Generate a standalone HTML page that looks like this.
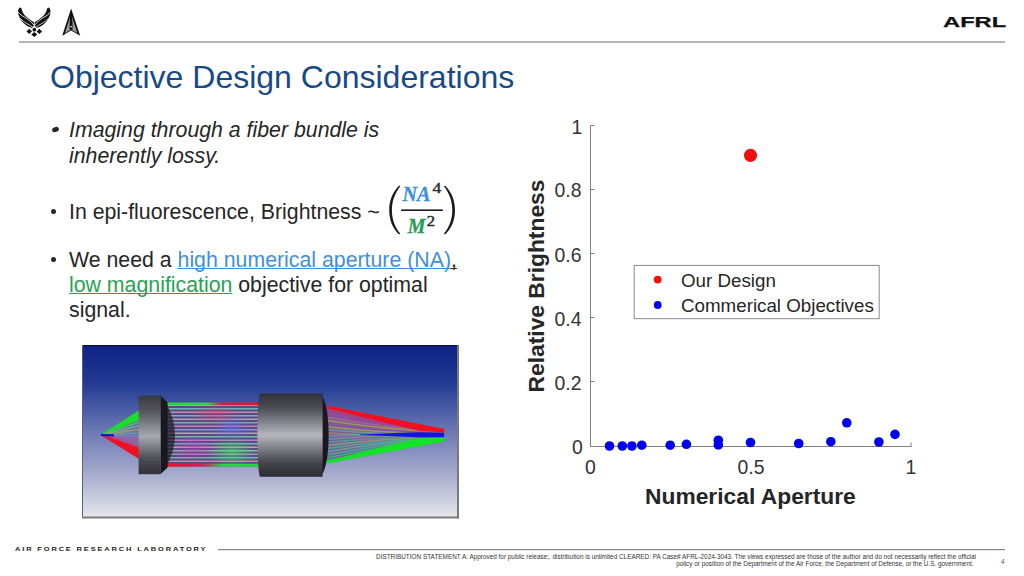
<!DOCTYPE html>
<html><head><meta charset="utf-8">
<style>
html,body{margin:0;padding:0;background:#fff;}
body{width:1024px;height:576px;position:relative;overflow:hidden;font-family:"Liberation Sans",sans-serif;color:#262626;}
.t{position:absolute;white-space:nowrap;line-height:1;}
.b{font-size:21.3px;}
.u1{color:#3f8fdb;text-decoration:underline;text-decoration-thickness:1.3px;text-underline-offset:1px;text-decoration-skip-ink:none;}
.u2{color:#27a352;text-decoration:underline;text-decoration-thickness:1.3px;text-underline-offset:1px;text-decoration-skip-ink:none;}
.dot{position:absolute;width:5px;height:5px;border-radius:50%;background:#262626;}
</style></head><body>


<!-- logos -->
<svg style="position:absolute;left:0;top:0" width="100" height="48" viewBox="0 0 100 48">
  <g>
      <path d="M19.5 7.6 L21.3 7.9 C21.9 10.6 22.9 13 24.5 14.9 C26.6 17.1 30.1 19.6 33.9 22.3 L33.9 25.3 L32.2 28.0 C29.2 27.6 26 25.8 23.5 23.1 C20.6 19.9 18.6 16.1 18.1 12.9 C17.8 10.9 18.5 9 19.5 7.6 Z" fill="#111"/>
      <path d="M17.9 11.8 C19.8 14.3 22 15.8 24.6 17.2 C28 19.1 31 21.6 34 25.2" stroke="#fff" stroke-width="0.85" fill="none"/>
      <path d="M20.4 18.4 C22.4 20.8 24.6 22.3 27 23.6 C29.2 24.8 31.2 26 33.2 27.8" stroke="#fff" stroke-width="0.75" fill="none"/>
    </g>
    <g transform="translate(68.6 0) scale(-1 1)">
      <path d="M19.5 7.6 L21.3 7.9 C21.9 10.6 22.9 13 24.5 14.9 C26.6 17.1 30.1 19.6 33.9 22.3 L33.9 25.3 L32.2 28.0 C29.2 27.6 26 25.8 23.5 23.1 C20.6 19.9 18.6 16.1 18.1 12.9 C17.8 10.9 18.5 9 19.5 7.6 Z" fill="#111"/>
      <path d="M17.9 11.8 C19.8 14.3 22 15.8 24.6 17.2 C28 19.1 31 21.6 34 25.2" stroke="#fff" stroke-width="0.85" fill="none"/>
      <path d="M20.4 18.4 C22.4 20.8 24.6 22.3 27 23.6 C29.2 24.8 31.2 26 33.2 27.8" stroke="#fff" stroke-width="0.75" fill="none"/>
    </g>
  <g fill="#111">
    <circle cx="34.3" cy="29.7" r="1.85"/>
    <path d="M26.5 31.4 L29.3 28.8 L32.0 31.4 L29.3 33.9 Z"/>
    <path d="M42.1 31.4 L39.3 28.8 L36.6 31.4 L39.3 33.9 Z"/>
    <path d="M31.3 34.5 L34.3 32.0 L37.3 34.5 L34.3 37.0 Z"/>
  </g>
  <path d="M71.1 8.5 L62.2 35.8 L71.1 30.6 L80.2 35.8 Z" fill="#111"/>
  <path d="M70.4 16 L64.9 33.2 L70.4 29.8 Z M71.8 16 L77.4 33.2 L71.8 29.8 Z" fill="#9a9a9a"/>
  <path d="M71.1 10 L69.7 22 L69.6 29.2 L72.6 29.2 L72.5 22 Z" fill="#111"/>
  <circle cx="71.1" cy="26.6" r="0.9" fill="#ddd"/>
</svg>

<!-- header -->
<svg style="position:absolute;left:0;top:0" width="1024" height="576" viewBox="0 0 1024 576">
  <rect x="19" y="41" width="986" height="2" fill="#b4b4b4"/>
  <rect x="218" y="549" width="787" height="1.2" fill="#858585"/>
</svg>

<div class="t" style="left:942.8px;top:14.1px;font-size:15.5px;font-weight:bold;color:#111;-webkit-text-stroke:0.25px #111;transform-origin:0 0;transform:scaleX(1.53);">AFRL</div>

<div class="t" style="left:50px;top:61px;font-size:32px;color:#174a86;">Objective Design Considerations</div>

<!-- bullets -->
<div class="dot" style="left:51.5px;top:126.5px;width:7px;height:5px;transform:rotate(-20deg);"></div>
<div class="t b" style="left:69px;top:120.2px;font-style:italic;">Imaging through a fiber bundle is</div>
<div class="t b" style="left:69px;top:145.6px;font-style:italic;">inherently lossy.</div>

<div class="dot" style="left:50.7px;top:208.5px;"></div>
<div class="t b" style="left:69px;top:201.7px;">In epi-fluorescence, Brightness ~</div>

<div class="dot" style="left:50.7px;top:256.8px;"></div>
<div class="t b" style="left:69px;top:249.5px;">We need a <span class="u1">high numerical aperture (NA)</span><span style="text-decoration:underline;text-decoration-thickness:1.3px;text-underline-offset:1px;text-decoration-skip-ink:none;">,</span></div>
<div class="t b" style="left:69px;top:275.3px;"><span class="u2">low magnification</span> objective for optimal</div>
<div class="t b" style="left:69px;top:300.4px;">signal.</div>



<!-- optics image -->
<svg style="position:absolute;left:82px;top:345px" width="378" height="174" viewBox="82 345 378 174">
<defs>
<linearGradient id="bg" x1="0" y1="0" x2="0" y2="1">
 <stop offset="0" stop-color="#0e2285"/>
 <stop offset="0.22" stop-color="#223a92"/>
 <stop offset="0.5" stop-color="#6a78b4"/>
 <stop offset="0.78" stop-color="#aeb2d0"/>
 <stop offset="1" stop-color="#e6e6ec"/>
</linearGradient>
<linearGradient id="metal" x1="0" y1="0" x2="0" y2="1">
 <stop offset="0" stop-color="#303038"/>
 <stop offset="0.18" stop-color="#4e4e56"/>
 <stop offset="0.5" stop-color="#b6b6be"/>
 <stop offset="0.82" stop-color="#484850"/>
 <stop offset="1" stop-color="#2a2a30"/>
</linearGradient>
<linearGradient id="metal1" x1="0" y1="0" x2="0" y2="1">
 <stop offset="0" stop-color="#3a3a42"/>
 <stop offset="0.2" stop-color="#55555d"/>
 <stop offset="0.52" stop-color="#a8a8b0"/>
 <stop offset="0.8" stop-color="#4e4e56"/>
 <stop offset="1" stop-color="#303036"/>
</linearGradient>
<linearGradient id="beamTop" x1="0" y1="0" x2="1" y2="0">
 <stop offset="0" stop-color="#18e030"/><stop offset="0.45" stop-color="#30d050"/><stop offset="0.6" stop-color="#d02050"/><stop offset="1" stop-color="#f01020"/>
</linearGradient>
<linearGradient id="beamBot" x1="0" y1="0" x2="1" y2="0">
 <stop offset="0" stop-color="#f01020"/><stop offset="0.4" stop-color="#d02060"/><stop offset="0.6" stop-color="#30d050"/><stop offset="1" stop-color="#18e030"/>
</linearGradient>
<radialGradient id="gG"><stop offset="0" stop-color="#30f060" stop-opacity="0.55"/><stop offset="1" stop-color="#30f060" stop-opacity="0"/></radialGradient>
<radialGradient id="gB"><stop offset="0" stop-color="#6070ff" stop-opacity="0.5"/><stop offset="1" stop-color="#6070ff" stop-opacity="0"/></radialGradient>
<radialGradient id="gM"><stop offset="0" stop-color="#d030d0" stop-opacity="0.45"/><stop offset="1" stop-color="#d030d0" stop-opacity="0"/></radialGradient>
<radialGradient id="gR"><stop offset="0" stop-color="#f03070" stop-opacity="0.45"/><stop offset="1" stop-color="#f03070" stop-opacity="0"/></radialGradient>
</defs>
<rect x="82" y="345" width="376" height="172" fill="url(#bg)"/>
<rect x="82" y="345" width="376" height="1.2" fill="#08103c"/>
<rect x="82" y="345" width="1" height="172" fill="#5a5f8a"/>
<rect x="457" y="345" width="2" height="173.5" fill="#7a7a7a"/>
<rect x="82" y="516.5" width="377" height="2" fill="#7a7a7a"/>
<path d="M101.6 435.0 L139 410.5 L139 458.8 Z" fill="#7a6aa0" opacity="0.75"/>
<line x1="101.6" y1="435.0" x2="139" y2="411.50" stroke="#20e030" stroke-width="1.3"/>
<line x1="101.6" y1="435.0" x2="139" y2="415.06" stroke="#20e030" stroke-width="1.3"/>
<line x1="101.6" y1="435.0" x2="139" y2="418.62" stroke="#30d848" stroke-width="1.3"/>
<line x1="101.6" y1="435.0" x2="139" y2="422.18" stroke="#50c070" stroke-width="1.3"/>
<line x1="101.6" y1="435.0" x2="139" y2="425.75" stroke="#60b090" stroke-width="1.3"/>
<line x1="101.6" y1="435.0" x2="139" y2="429.31" stroke="#a0a060" stroke-width="1.3"/>
<line x1="101.6" y1="435.0" x2="139" y2="432.87" stroke="#60a0b0" stroke-width="1.3"/>
<line x1="101.6" y1="435.0" x2="139" y2="436.43" stroke="#8080c0" stroke-width="1.3"/>
<line x1="101.6" y1="435.0" x2="139" y2="439.99" stroke="#a060a0" stroke-width="1.3"/>
<line x1="101.6" y1="435.0" x2="139" y2="443.55" stroke="#b05090" stroke-width="1.3"/>
<line x1="101.6" y1="435.0" x2="139" y2="447.12" stroke="#d03060" stroke-width="1.3"/>
<line x1="101.6" y1="435.0" x2="139" y2="450.68" stroke="#e01838" stroke-width="1.3"/>
<line x1="101.6" y1="435.0" x2="139" y2="454.24" stroke="#f01020" stroke-width="1.3"/>
<line x1="101.6" y1="435.0" x2="139" y2="457.80" stroke="#f01020" stroke-width="1.3"/>
<path d="M101.6 435.0 L139 410.3 L139 420 Z" fill="#18e028"/>
<path d="M101.6 435.0 L139 448 L139 459 Z" fill="#f01020"/>
<path d="M101 434 L114 434.3 L114 436.4 L101 436 Z" fill="#1010d0"/>
<rect x="166" y="402.5" width="93" height="64" fill="#5a4a86"/>
<line x1="166" y1="405.2" x2="259" y2="405.2" stroke="#b8a0b8" stroke-width="1.4"/>
<line x1="166" y1="408.7" x2="259" y2="408.7" stroke="#68b8b8" stroke-width="1.4"/>
<line x1="166" y1="412.2" x2="259" y2="412.2" stroke="#c890a8" stroke-width="1.4"/>
<line x1="166" y1="415.7" x2="259" y2="415.7" stroke="#78b0c8" stroke-width="1.4"/>
<line x1="166" y1="419.2" x2="259" y2="419.2" stroke="#b0a0b8" stroke-width="1.4"/>
<line x1="166" y1="422.7" x2="259" y2="422.7" stroke="#68b8a8" stroke-width="1.4"/>
<line x1="166" y1="426.2" x2="259" y2="426.2" stroke="#c880a8" stroke-width="1.4"/>
<line x1="166" y1="429.7" x2="259" y2="429.7" stroke="#8898d0" stroke-width="1.4"/>
<line x1="166" y1="433.2" x2="259" y2="433.2" stroke="#b8a8a8" stroke-width="1.4"/>
<line x1="166" y1="436.7" x2="259" y2="436.7" stroke="#68c0a8" stroke-width="1.4"/>
<line x1="166" y1="440.2" x2="259" y2="440.2" stroke="#b880b8" stroke-width="1.4"/>
<line x1="166" y1="443.7" x2="259" y2="443.7" stroke="#78b8b8" stroke-width="1.4"/>
<line x1="166" y1="447.2" x2="259" y2="447.2" stroke="#c8a0a8" stroke-width="1.4"/>
<line x1="166" y1="450.7" x2="259" y2="450.7" stroke="#88c098" stroke-width="1.4"/>
<line x1="166" y1="454.2" x2="259" y2="454.2" stroke="#b090b0" stroke-width="1.4"/>
<line x1="166" y1="457.7" x2="259" y2="457.7" stroke="#70b8b0" stroke-width="1.4"/>
<line x1="166" y1="461.2" x2="259" y2="461.2" stroke="#c090a0" stroke-width="1.4"/>
<line x1="166" y1="464.7" x2="259" y2="464.7" stroke="#90a0c0" stroke-width="1.4"/>
<ellipse cx="232" cy="452" rx="24" ry="15" fill="url(#gG)"/>
<ellipse cx="232" cy="428" rx="20" ry="12" fill="url(#gB)"/>
<ellipse cx="195" cy="448" rx="24" ry="14" fill="url(#gM)"/>
<ellipse cx="215" cy="414" rx="26" ry="10" fill="url(#gR)"/>
<path d="M166 402.4 H259 V405.2 H166 Z" fill="url(#beamTop)"/>
<path d="M166 463.8 H259 V466.6 H166 Z" fill="url(#beamBot)"/>
<path d="M166 403 Q184 435 166 467 Z" fill="#1a1a22" opacity="0.7"/>
<path d="M327 405.6 L444.3 429 L444.3 441.5 L327 463.3 Z" fill="#7a5c98" opacity="0.95"/>
<path d="M327 408.00 Q385 422.25 444.3 430.50" stroke="#e02850" stroke-width="1.5" fill="none" opacity="0.9"/>
<path d="M327 411.12 Q385 424.09 444.3 431.06" stroke="#c03080" stroke-width="1.5" fill="none" opacity="0.9"/>
<path d="M327 414.24 Q385 425.93 444.3 431.62" stroke="#a040a0" stroke-width="1.5" fill="none" opacity="0.9"/>
<path d="M327 417.35 Q385 427.76 444.3 432.18" stroke="#b06090" stroke-width="1.5" fill="none" opacity="0.9"/>
<path d="M327 420.47 Q385 429.60 444.3 432.74" stroke="#a0a050" stroke-width="1.5" fill="none" opacity="0.9"/>
<path d="M327 423.59 Q385 431.44 444.3 433.29" stroke="#9050a0" stroke-width="1.5" fill="none" opacity="0.9"/>
<path d="M327 426.71 Q385 433.28 444.3 433.85" stroke="#a0a060" stroke-width="1.5" fill="none" opacity="0.9"/>
<path d="M327 429.82 Q385 435.12 444.3 434.41" stroke="#70a090" stroke-width="1.5" fill="none" opacity="0.9"/>
<path d="M327 432.94 Q385 436.96 444.3 434.97" stroke="#b08060" stroke-width="1.5" fill="none" opacity="0.9"/>
<path d="M327 436.06 Q385 432.79 444.3 435.53" stroke="#60a0b0" stroke-width="1.5" fill="none" opacity="0.9"/>
<path d="M327 439.18 Q385 434.63 444.3 436.09" stroke="#8090a0" stroke-width="1.5" fill="none" opacity="0.9"/>
<path d="M327 442.29 Q385 436.47 444.3 436.65" stroke="#50a0a0" stroke-width="1.5" fill="none" opacity="0.9"/>
<path d="M327 445.41 Q385 438.31 444.3 437.21" stroke="#90a070" stroke-width="1.5" fill="none" opacity="0.9"/>
<path d="M327 448.53 Q385 440.15 444.3 437.76" stroke="#40b0a0" stroke-width="1.5" fill="none" opacity="0.9"/>
<path d="M327 451.65 Q385 441.99 444.3 438.32" stroke="#60b090" stroke-width="1.5" fill="none" opacity="0.9"/>
<path d="M327 454.76 Q385 443.82 444.3 438.88" stroke="#40b0a0" stroke-width="1.5" fill="none" opacity="0.9"/>
<path d="M327 457.88 Q385 445.66 444.3 439.44" stroke="#30c070" stroke-width="1.5" fill="none" opacity="0.9"/>
<path d="M327 461.00 Q385 447.50 444.3 440.00" stroke="#20d050" stroke-width="1.5" fill="none" opacity="0.9"/>
<path d="M327 405.6 L444.3 429 L444 432.4 L420 431 L380 421.5 L340 411.5 L327 408.5 Z" fill="#f01020"/>
<path d="M327 463.4 L444.3 441.4 L444 437.8 L420 438 L380 447.5 L340 458 L327 460.5 Z" fill="#12e428"/>
<path d="M360 434.6 L400 432.8 L420 432.2 L444.3 432.8 L444 437.2 L420 437.6 L400 436.6 L360 435 Z" fill="#1414e0"/>
<path d="M160.4 395.6 L167.6 402.5 L167.6 467.5 L160.4 474.2 Z" fill="#18181e"/>
<rect x="138.6" y="395.6" width="22" height="78.6" fill="url(#metal1)"/>
<path d="M321 393.4 Q328.6 405 328.6 435 Q328.6 465 321 476.7 Z" fill="#18181e"/>
<path d="M260 393.4 H322.6 V476.7 H260 Q257.4 470 257.4 435 Q257.4 400 260 393.4 Z" fill="url(#metal)"/>
</svg>
<!-- chart -->
<svg style="position:absolute;left:0;top:0" width="1024" height="576" viewBox="0 0 1024 576" font-family="Liberation Sans">
  <g stroke="#808080" stroke-width="1" fill="none">
    <path d="M590.5 125.5V446.5H911.5"/>
    <path d="M590.5 125.5h4M590.5 189.5h4M590.5 253.5h4M590.5 317.5h4M590.5 381.5h4"/>
    <path d="M750.5 446.5v-4M911 446.5v-4"/>
  </g>
  <g fill="#333" font-size="19.4" text-anchor="end">
    <text x="582.3" y="133.8">1</text>
    <text x="581.5" y="197.4">0.8</text>
    <text x="581.5" y="261.6">0.6</text>
    <text x="581.5" y="325.8">0.4</text>
    <text x="581.5" y="390">0.2</text>
    <text x="582.8" y="454.4">0</text>
  </g>
  <g fill="#333" font-size="19.4" text-anchor="middle">
    <text x="590.5" y="474">0</text>
    <text x="751" y="474">0.5</text>
    <text x="911" y="474">1</text>
  </g>
  <text x="750.4" y="504.3" font-size="22.8" font-weight="bold" fill="#262626" text-anchor="middle">Numerical Aperture</text>
  <text transform="translate(544 286) rotate(-90)" font-size="22.8" font-weight="bold" fill="#262626" text-anchor="middle">Relative Brightness</text>
  <circle cx="750.5" cy="155.3" r="6.6" fill="#f01010"/>
  <g fill="#0000ee">
    <circle cx="609.5" cy="446" r="4.8"/>
    <circle cx="622.3" cy="446" r="4.8"/>
    <circle cx="631.9" cy="446" r="4.8"/>
    <circle cx="641.8" cy="445.2" r="4.8"/>
    <circle cx="670.2" cy="445.2" r="4.8"/>
    <circle cx="686.4" cy="444.3" r="4.8"/>
    <circle cx="718.3" cy="440.2" r="4.8"/>
    <circle cx="718.3" cy="444.9" r="4.8"/>
    <circle cx="750.5" cy="442.5" r="4.8"/>
    <circle cx="798.7" cy="443.5" r="4.8"/>
    <circle cx="830.8" cy="441.7" r="4.8"/>
    <circle cx="846.8" cy="422.8" r="4.8"/>
    <circle cx="878.9" cy="442" r="4.8"/>
    <circle cx="895" cy="434.4" r="4.8"/>
  </g>
  <rect x="634.2" y="265.4" width="245" height="53.3" fill="#fff" stroke="#8a8a8a" stroke-width="1"/>
  <circle cx="657.7" cy="279.6" r="3.9" fill="#f01010"/>
  <circle cx="657.7" cy="305" r="3.9" fill="#0000ee"/>
  <g fill="#262626" font-size="18.75">
    <text x="681" y="287.3">Our Design</text>
    <text x="681" y="312.4">Commerical Objectives</text>
  </g>
</svg>


<!-- formula -->
<svg style="position:absolute;left:0;top:0" width="1024" height="576" viewBox="0 0 1024 576">
  <path d="M399.3 185.6 C393 191.5 389.2 200 389.2 210.2 C389.2 220.4 393 228.9 399.3 234.6 L400.2 233.6 C395.3 227.6 391.9 219.6 391.9 210.2 C391.9 200.8 395.3 192.6 400.2 186.6 Z" fill="#1a1a1a"/>
  <path d="M444.9 185.6 C451.2 191.5 455 200 455 210.2 C455 220.4 451.2 228.9 444.9 234.6 L444 233.6 C448.9 227.6 452.3 219.6 452.3 210.2 C452.3 200.8 448.9 192.6 444 186.6 Z" fill="#1a1a1a"/>
  <rect x="401.1" y="209.4" width="41.7" height="1.6" fill="#1a1a1a"/>
  <text x="402.4" y="200.8" font-family="Liberation Serif" font-weight="bold" font-style="italic" font-size="20.5" fill="#3d90dc" stroke="#3d90dc" stroke-width="0.35" textLength="28" lengthAdjust="spacingAndGlyphs">NA</text>
  <text x="407.8" y="233.1" font-family="Liberation Serif" font-weight="bold" font-style="italic" font-size="20" fill="#2a9c55" stroke="#2a9c55" stroke-width="0.3">M</text>
  <text x="432.4" y="192.5" font-family="Liberation Serif" font-size="14.5" fill="#262626" stroke="#262626" stroke-width="0.4" textLength="8.8" lengthAdjust="spacingAndGlyphs">4</text>
  <text x="426.7" y="226.4" font-family="Liberation Serif" font-size="14.5" fill="#262626" stroke="#262626" stroke-width="0.4" textLength="8.3" lengthAdjust="spacingAndGlyphs">2</text>
</svg>

<!-- footer -->
<div class="t" style="left:15px;top:545.8px;font-size:6.2px;font-weight:bold;letter-spacing:1.56px;color:#222;transform-origin:0 0;transform:scaleX(1.2);">AIR FORCE RESEARCH LABORATORY</div>
<div class="t" style="right:48px;top:552.5px;font-size:6.4px;color:#333;text-align:right;line-height:7.4px;">DISTRIBUTION STATEMENT A: Approved for public release;. distribution is unlimited CLEARED: PA Case# AFRL-2024-3043. The views expressed are those of the author and do not necessarily reflect the official<br><span style="margin-right:2.5px">policy or position of the Department of the Air Force, the Department of Defense, or the U.S. government.</span></div>
<div class="t" style="left:1001px;top:559px;font-size:6.4px;color:#555;">4</div>

</body></html>
